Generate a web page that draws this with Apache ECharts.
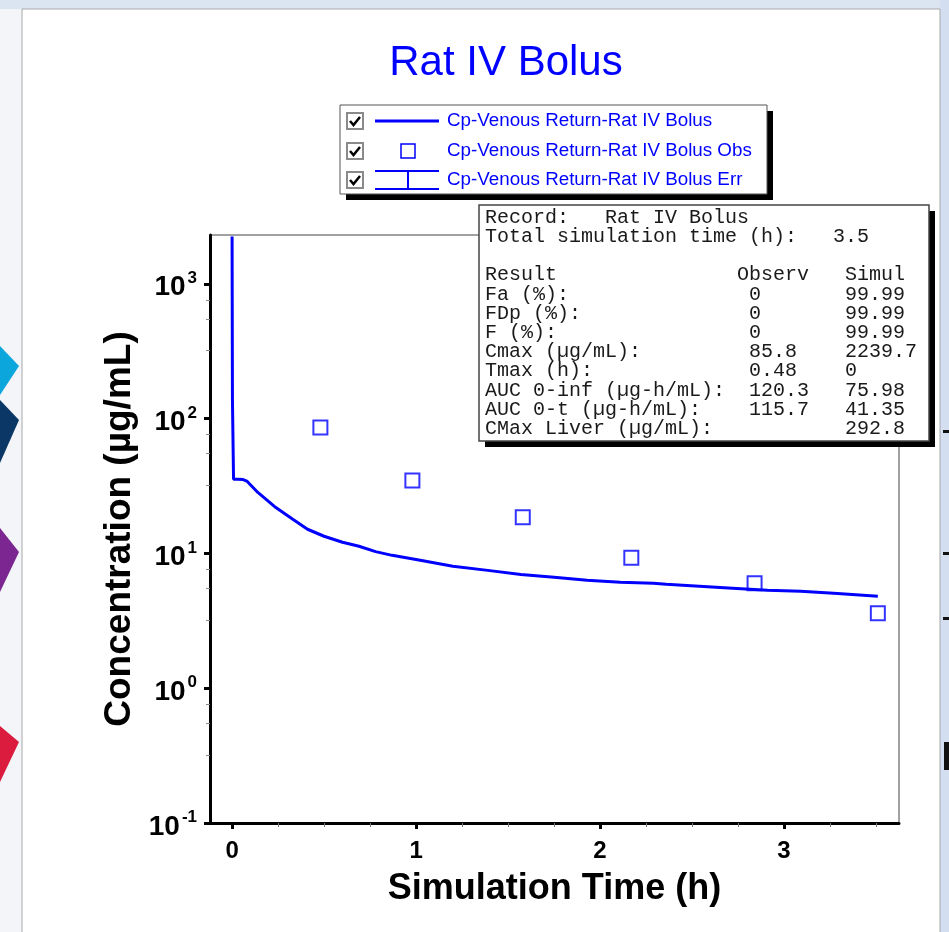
<!DOCTYPE html>
<html>
<head>
<meta charset="utf-8">
<title>Rat IV Bolus</title>
<script src="https://cdn.jsdelivr.net/npm/echarts@6/dist/echarts.min.js"></script>
<style>
  html, body { margin: 0; padding: 0; background: #fff; }
  #chart1 { width: 949px; height: 932px; }
</style>
</head>
<body>
<div id="chart1"></div>
<script>
// 模拟曲线 (h, µg/mL)
const simTime = [0, 0.002, 0.008, 0.03, 0.06, 0.08, 0.14, 0.23, 0.33, 0.41, 0.5, 0.6, 0.69, 0.78, 0.87,
    1.03, 1.2, 1.39, 1.57, 1.75, 1.93, 2.11, 2.29, 2.36, 2.54, 2.72, 2.91, 3.09, 3.27, 3.51];
const simConc = [2239.7, 138, 35.5, 35.5, 35.3, 34.4, 28.3, 22.3, 17.9, 15.1, 13.4, 12.1, 11.3, 10.3, 9.67,
    8.87, 8.02, 7.48, 6.98, 6.64, 6.31, 6.10, 6.0, 5.9, 5.70, 5.51, 5.32, 5.24, 5.06, 4.80];

// 观测点
const obsTime = [0.48, 0.98, 1.58, 2.17, 2.84, 3.51];
const obsConc = [85.8, 34.7, 18.5, 9.3, 6.0, 3.6];

// 刻度
const xTicks = [0, 1, 2, 3];
const xMinorTicks = [0.25, 0.5, 0.75, 1.25, 1.5, 1.75, 2.25, 2.5, 2.75, 3.25, 3.5];
const yTicks = [0.1, 1, 10, 100, 1000];
const yMinorFactors = [0.76, 0.55, 0.32];

const seriesNames = [
    'Cp-Venous Return-Rat IV Bolus',
    'Cp-Venous Return-Rat IV Bolus Obs',
    'Cp-Venous Return-Rat IV Bolus Err'
];

const statsLines = [
    'Record:   Rat IV Bolus',
    'Total simulation time (h):   3.5',
    '',
    'Result               Observ   Simul',
    'Fa (%):               0       99.99',
    'FDp (%):              0       99.99',
    'F (%):                0       99.99',
    'Cmax (µg/mL):         85.8    2239.7',
    'Tmax (h):             0.48    0',
    'AUC 0-inf (µg-h/mL):  120.3   75.98',
    'AUC 0-t (µg-h/mL):    115.7   41.35',
    'CMax Liver (µg/mL):           292.8'
];

function initChart() {
    const chart = echarts.init(document.getElementById('chart1'), null, { renderer: 'canvas' });
    const BLUE = '#0000ff';

    // 次刻度
    const yMinorTicks = [];
    yTicks.slice(1).forEach(d => yMinorFactors.forEach(f => yMinorTicks.push(d * f)));

    const simData = simTime.map((t, i) => [t, simConc[i]]);
    const obsData = obsTime.map((t, i) => [t, obsConc[i]]);

    // 背景和窗口
    const graphics = [
        { type: 'rect', z: -20, shape: { x: 0, y: 0, width: 949, height: 932 }, style: { fill: '#f3f5f8' } },
        { type: 'rect', z: -19, shape: { x: 0, y: 0, width: 949, height: 9 }, style: { fill: '#dbe5f1' } },
        { type: 'rect', z: -19, shape: { x: 940, y: 0, width: 9, height: 932 }, style: { fill: '#d3dff0' } },
        { type: 'rect', z: -18, shape: { x: 22, y: 9, width: 918, height: 930 },
          style: { fill: '#ffffff', stroke: '#a8a8a8', lineWidth: 1 } },
        { type: 'polygon', z: -17, shape: { points: [[0, 346], [19, 366], [0, 395]] }, style: { fill: '#0ba6dc' } },
        { type: 'polygon', z: -17, shape: { points: [[0, 400], [19, 420], [0, 463]] }, style: { fill: '#0b3766' } },
        { type: 'polygon', z: -17, shape: { points: [[0, 528], [19, 552], [0, 592]] }, style: { fill: '#7c2692' } },
        { type: 'polygon', z: -17, shape: { points: [[0, 726], [19, 742], [0, 782]] }, style: { fill: '#dc1c3e' } },
        { type: 'rect', z: -16, shape: { x: 943, y: 430, width: 6, height: 3 }, style: { fill: '#111' } },
        { type: 'rect', z: -16, shape: { x: 943, y: 552, width: 6, height: 3 }, style: { fill: '#111' } },
        { type: 'rect', z: -16, shape: { x: 943, y: 617, width: 6, height: 3 }, style: { fill: '#111' } },
        { type: 'rect', z: -16, shape: { x: 944, y: 742, width: 5, height: 28 }, style: { fill: '#111' } },
        // 标题
        { type: 'text', z: 50, x: 506, y: 63,
          style: { text: 'Rat IV Bolus', fontSize: 42, fontFamily: 'Liberation Sans', fill: BLUE,
                   align: 'center', verticalAlign: 'middle' } }
    ];

    // 图例框
    const lgX = 340, lgY = 105, lgW = 427, lgH = 89;
    graphics.push({ type: 'rect', z: 98, shape: { x: lgX + 6, y: lgY + 6, width: lgW, height: lgH }, style: { fill: '#000' } });
    graphics.push({ type: 'rect', z: 99, shape: { x: lgX, y: lgY, width: lgW, height: lgH },
        style: { fill: '#fff', stroke: '#555', lineWidth: 1 } });
    const rowY = [121, 151, 180];
    rowY.forEach((y, i) => {
        // 复选框
        graphics.push({ type: 'rect', z: 100, shape: { x: 347, y: y - 8, width: 16, height: 16 },
            style: { fill: '#fff', stroke: '#8a8a8a', lineWidth: 2 } });
        graphics.push({ type: 'polyline', z: 101, shape: { points: [[350, y], [353.5, y + 4], [360, y - 4]] },
            style: { stroke: '#000', lineWidth: 2.5, fill: null } });
        graphics.push({ type: 'text', z: 100, x: 447, y: y,
            style: { text: seriesNames[i], fontSize: 18.8, fontFamily: 'Liberation Sans', fill: BLUE,
                     verticalAlign: 'middle' } });
    });
    graphics.push({ type: 'line', z: 100, shape: { x1: 375, y1: 121, x2: 439, y2: 121 },
        style: { stroke: BLUE, lineWidth: 3 } });
    graphics.push({ type: 'rect', z: 100, shape: { x: 401, y: 144, width: 14, height: 14 },
        style: { fill: null, stroke: BLUE, lineWidth: 1.5 } });
    graphics.push({ type: 'polyline', z: 100, shape: { points: [[375, 171], [439, 171]] }, style: { stroke: BLUE, lineWidth: 2 } });
    graphics.push({ type: 'polyline', z: 100, shape: { points: [[375, 189], [439, 189]] }, style: { stroke: BLUE, lineWidth: 2 } });
    graphics.push({ type: 'polyline', z: 100, shape: { points: [[408, 171], [408, 189]] }, style: { stroke: BLUE, lineWidth: 2 } });

    // 结果框
    const bxX = 479, bxY = 205, bxW = 450, bxH = 236;
    graphics.push({ type: 'rect', z: 98, shape: { x: bxX + 6, y: bxY + 6, width: bxW, height: bxH }, style: { fill: '#000' } });
    graphics.push({ type: 'rect', z: 99, shape: { x: bxX, y: bxY, width: bxW, height: bxH },
        style: { fill: '#fff', stroke: '#444', lineWidth: 1.5 } });
    graphics.push({ type: 'text', z: 100, x: 485, y: 208,
        style: { text: statsLines.join('\n'), fontSize: 20, fontFamily: 'Liberation Mono',
                 lineHeight: 19.2, fill: '#1a1a1a', verticalAlign: 'top' } });

    const option = {
        animation: false,
        backgroundColor: 'transparent',
        grid: {
            left: 210, top: 235, width: 689, height: 588,
            show: true, borderColor: '#444', borderWidth: 1, backgroundColor: 'transparent',
            outerBoundsMode: 'none'
        },
        xAxis: [
            {
                type: 'value', min: -0.12, max: 3.625,
                name: 'Simulation Time (h)', nameLocation: 'middle', nameGap: 48,
                nameTextStyle: { fontSize: 36, fontWeight: 'bold', fontFamily: 'Liberation Sans', color: '#000' },
                axisLine: { show: true, onZero: false, lineStyle: { color: '#000', width: 3 } },
                axisTick: { show: true, inside: false, length: 6, customValues: xTicks,
                            lineStyle: { color: '#000', width: 3 } },
                axisLabel: { customValues: xTicks, margin: 16, fontSize: 24, fontWeight: 'bold',
                             fontFamily: 'Liberation Sans', color: '#000' },
                splitLine: { show: false }
            },
            {
                type: 'value', min: -0.12, max: 3.625, position: 'bottom',
                axisLine: { show: false, onZero: false },
                axisTick: { show: true, inside: false, length: 4, customValues: xMinorTicks,
                            lineStyle: { color: '#777', width: 1 } },
                axisLabel: { show: false },
                splitLine: { show: false }
            }
        ],
        yAxis: [
            {
                type: 'log', logBase: 10, min: 0.1, max: 2300,
                name: 'Concentration (µg/mL)', nameLocation: 'middle', nameGap: 71,
                nameTextStyle: { fontSize: 37, fontWeight: 'bold', fontFamily: 'Liberation Sans', color: '#000' },
                axisLine: { show: true, onZero: false, lineStyle: { color: '#000', width: 3 } },
                axisTick: { show: true, inside: false, length: 6, customValues: yTicks,
                            lineStyle: { color: '#000', width: 3 } },
                axisLabel: {
                    customValues: yTicks, margin: 13,
                    formatter: function (v) {
                        const e = Math.round(Math.log10(v));
                        return '{b|10}{e|' + e + '}';
                    },
                    rich: {
                        b: { fontSize: 28, fontWeight: 'bold', fontFamily: 'Liberation Sans', color: '#000',
                             lineHeight: 36, verticalAlign: 'bottom' },
                        e: { fontSize: 17, fontWeight: 'bold', fontFamily: 'Liberation Sans', color: '#000',
                             lineHeight: 36, verticalAlign: 'top', padding: [4, 0, 0, 2] }
                    }
                },
                splitLine: { show: false }
            },
            {
                type: 'log', logBase: 10, min: 0.1, max: 2300, position: 'left',
                axisLine: { show: false, onZero: false },
                axisTick: { show: true, inside: false, length: 4, customValues: yMinorTicks,
                            lineStyle: { color: '#888', width: 1 } },
                axisLabel: { show: false },
                splitLine: { show: false }
            }
        ],
        series: [
            {
                name: seriesNames[0], type: 'line', data: simData,
                showSymbol: false, symbol: 'none', clip: true,
                lineStyle: { color: BLUE, width: 3 }, z: 3
            },
            {
                name: seriesNames[1], type: 'scatter', data: obsData,
                symbol: 'rect', symbolSize: 14,
                itemStyle: { color: 'rgba(0,0,0,0)', borderColor: BLUE, borderWidth: 2 }, z: 4
            }
        ],
        graphic: graphics
    };

    chart.setOption(option);
}

window.addEventListener('load', initChart);
</script>
</body>
</html>
